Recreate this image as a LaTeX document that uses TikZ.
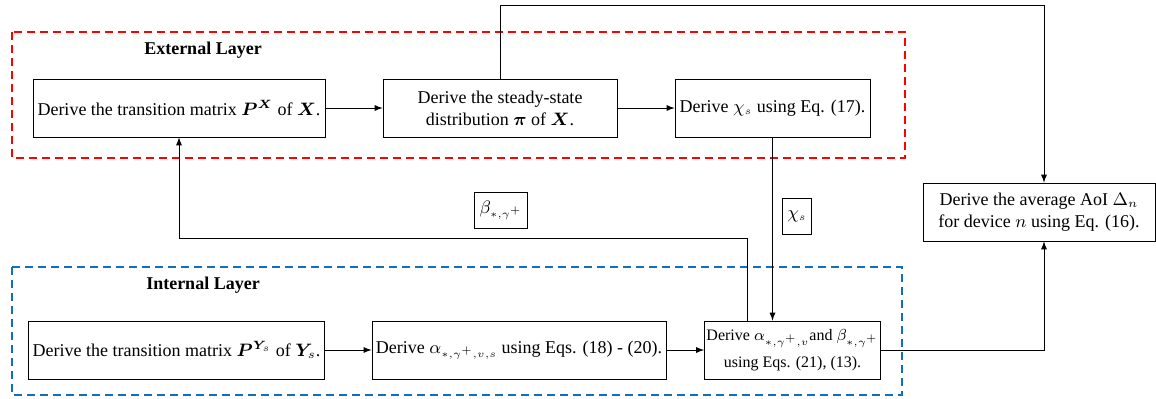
\documentclass[tikz,border=0pt]{standalone}
\usepackage{fontspec}
\setmainfont{Liberation Serif}
\usepackage{amsmath}
\usepackage{amssymb}
\usepackage{bm}

\definecolor{intblue}{RGB}{20,110,190}
\newcommand{\tinysub}[1]{{\scriptscriptstyle #1}}

\begin{document}
\begin{tikzpicture} [
    x=0.5pt, y=-0.5pt,
    font=\fontsize{9}{11}\selectfont,
    block/.style    = { rectangle, draw, text centered, align=center,
                        minimum height=29pt, inner sep=2pt },
    tag/.style      = { rectangle, draw, inner sep=2.5pt, minimum height=18pt },
    layer/.style    = { dashed, line width=0.8pt, dash pattern=on 4pt off 2.5pt },
    line/.style     = { draw, -latex},
  ]
  \useasboundingbox (0,0) rectangle (1156,398);

  % layers
  \draw [layer, red] (12,32) rectangle (905,158);
  \draw [layer, intblue] (12,267) rectangle (902,395);
  \node [font=\fontsize{9}{11}\selectfont\bfseries] (extlabel) at (203,50) {External Layer};
  \node [font=\fontsize{9}{11}\selectfont\bfseries] (intlabel) at (203,285) {Internal Layer};

  % Define nodes
  \node[block, minimum width=146pt] (transX) at (179,108)
    {Derive the transition matrix $\bm{P}^{\bm{X}}$ of $\bm{X}$.};
  \node[block, minimum width=117pt] (steady) at (500,108)
    {Derive the steady-state\\ distribution $\bm{\pi}$ of $\bm{X}$.};
  \node[block, minimum width=97.5pt] (chi) at (772.5,108)
    {Derive $\chi_{\tinysub{s}}$ using Eq. (17).};
  \node[block, minimum width=116pt] (aoi) at (1039,212)
    {Derive the average AoI $\Delta_n$\\ for device $n$ using Eq. (16).};
  \node[block, minimum width=145.5pt] (transY) at (176.5,350)
    {Derive the transition matrix $\bm{P}^{\bm{Y}_{\tinysub{s}}}$ of $\bm{Y}_s$.};
  \node[block, minimum width=139pt] (alpha) at (519,350)
    {Derive $\alpha_{\tinysub{*,\gamma^{+},v,s}}$ using Eqs. (18) - (20).};
  \node[block, minimum width=78.5pt, inner sep=1pt, font=\fontsize{8}{13.5}\selectfont] (alphabeta) at (792.5,350)
    {Derive $\alpha_{\tinysub{*,\gamma^{+},v}}$and $\beta_{\tinysub{*,\gamma^{+}}}$\\ using Eqs. (21), (13).};

  \node[tag] (betatag) at (501,210) {$\beta_{\tinysub{*,\gamma^{+}}}$};
  \node[tag] (chitag) at (797,216) {$\chi_{\tinysub{s}}$};

  \coordinate (topturn) at (1044,5);
  \coordinate (betaturn) at (747,238);

  % connect the nodes
		\path [line] (transX) -- (steady);
		\path [line] (steady) -- (chi);
		\path [line] (steady.north) |- (topturn) -- (topturn |- aoi.north);
		\path [line] (chi.south) -- (chi.south |- alphabeta.north);
		\path [line] (betaturn |- alphabeta.north) -- (betaturn) -| (transX.south);
		\path [line] (transY) -- (alpha);
		\path [line] (alpha) -- (alphabeta);
		\path [line] (alphabeta.east) -| (topturn |- aoi.south);
\end{tikzpicture}
\end{document}
